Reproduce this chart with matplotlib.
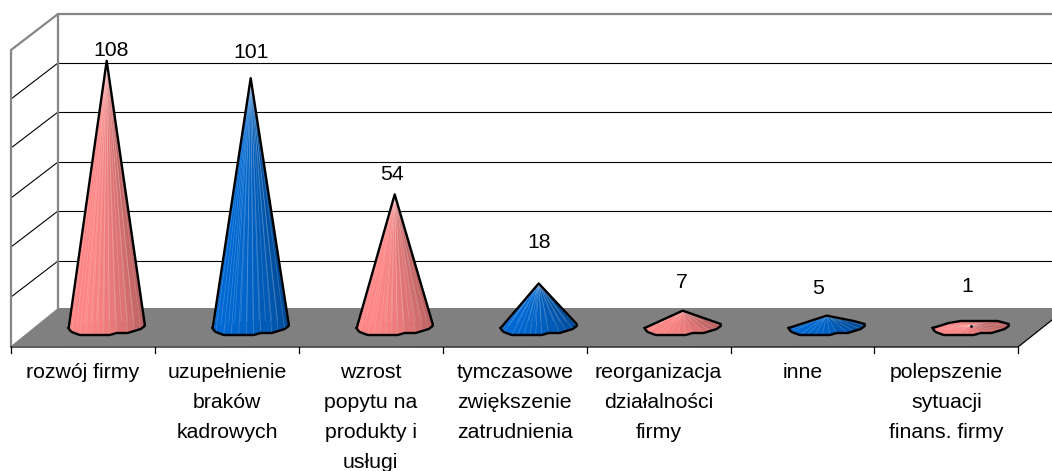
import matplotlib
matplotlib.use("Agg")
import matplotlib.pyplot as plt
from matplotlib.colors import to_rgb

plt.rcParams["font.family"] = ["Liberation Sans", "DejaVu Sans"]

categories = [
    "rozwój firmy",
    "uzupełnienie\nbraków\nkadrowych",
    "wzrost\npopytu na\nprodukty i\nusługi",
    "tymczasowe\nzwiększenie\nzatrudnienia",
    "reorganizacja\ndziałalności\nfirmy",
    "inne",
    "polepszenie\nsytuacji\nfinans. firmy",
]
values = [108, 101, 54, 18, 7, 5, 1]
value_label_px = [(111, 50), (251, 51), (392, 173), (539, 242), (682, 282), (818, 288), (967, 285)]

W, H = 1052, 471
PINK = "#FF8585"
BLUE = "#0068D2"

# calibration of the value axis against the picture
X0, DX = 106.7, 144.0
Y0, DY = 328.0, 2.474

# irregular cone foot, pixels around the centre of the foot
FRONT = [(-38, 0), (-37, 2), (-35, 4), (-27, 7), (3, 7), (10, 5), (21, 5), (34, 1), (38, -2), (38, -4)]
BACK = [(27, -7), (-10, -7), (-22, -5)]

fig = plt.figure(figsize=(W / 100, H / 100), dpi=100)

# frame of the 3d box in pixels
bg = fig.add_axes([0, 0, 1, 1])
bg.set_xlim(0, W)
bg.set_ylim(H, 0)
bg.axis("off")

bg.fill([11, 58, 1052, 1052, 1018], [346, 308, 308, 320, 347], color="#808080", lw=0)
for y in [63, 112, 162, 211, 261]:
    bg.plot([58, W], [y, y], color="black", lw=0.8)
    bg.plot([58, 11], [y, y + 36], color="black", lw=0.8)
bg.plot([11, 11, 58, 58], [346, 50, 14, 308], color="#868686", lw=1.6)
bg.plot([58, W], [14, 14], color="#868686", lw=1.6)
bg.plot([11, 1018, 1052], [347, 347, 320], color="black", lw=0.9)
for i in range(8):
    x = 11 + i * 143.9
    bg.plot([x, x], [347, 353], color="black", lw=0.9)

# data axes, same area but in category / value units
ax = fig.add_axes([0, 0, 1, 1], facecolor="none")
ax.set_xlim(-X0 / DX, (W - X0) / DX)
ax.set_ylim((Y0 - H) / DY, Y0 / DY)
ax.axis("off")


def upper_chain(points):
    # upper hull from left to right
    chain = []
    for p in sorted(points):
        while len(chain) > 1:
            (x1, y1), (x2, y2) = chain[-2], chain[-1]
            if (x2 - x1) * (p[1] - y1) - (y2 - y1) * (p[0] - x1) >= 0:
                chain.pop()
            else:
                break
        chain.append(p)
    return chain


def shade(color, t):
    # lighter on the left of the cone, darker on the right
    f = 1.0 - 0.27 * t * t
    return tuple(c * f for c in to_rgb(color))


def draw_cone(i, v, color):
    foot = [(i + a / DX, -b / DY) for a, b in FRONT + BACK]
    n_front = len(FRONT)
    apex = (i, v)

    # back facets first, then the front ones, each split up for the streaks
    order = list(range(n_front - 1, len(foot))) + [0]
    order2 = list(range(n_front))
    for seq in (order, order2):
        for p, q in zip(seq[:-1], seq[1:]):
            x1, y1 = foot[p]
            x2, y2 = foot[q]
            parts = max(1, int(abs(x2 - x1) * DX / 6))
            for k in range(parts):
                s1, s2 = k / parts, (k + 1) / parts
                a_ = x1 + (x2 - x1) * s1, y1 + (y2 - y1) * s1
                b_ = x1 + (x2 - x1) * s2, y1 + (y2 - y1) * s2
                t = ((a_[0] + b_[0]) / 2 - i) * DX / 76 + 0.5
                c = shade(color, max(0, min(1, t)))
                ax.fill([apex[0], a_[0], b_[0]], [apex[1], a_[1], b_[1]],
                        facecolor=c, edgecolor=c, lw=0.3, zorder=3)
                # faint light seams between the facets
                ax.plot([apex[0], a_[0]], [apex[1], a_[1]], color="white",
                        lw=0.5, alpha=0.22, zorder=3.5)

    left, right = foot[0], foot[n_front - 1]
    upper = upper_chain([left, right, apex] + foot[n_front:])
    front = foot[:n_front]
    xs = [p[0] for p in upper] + [p[0] for p in reversed(front)]
    ys = [p[1] for p in upper] + [p[1] for p in reversed(front)]
    ax.plot(xs, ys, color="black", lw=1.7, solid_joinstyle="round", zorder=4)
    if v < 3:
        ax.plot([i], [v], ".", color="black", ms=2, zorder=5)


for i, v in enumerate(values):
    draw_cone(i, v, PINK if i % 2 == 0 else BLUE)

bg.set_zorder(1)
ax.set_zorder(2)
for v, (x, y) in zip(values, value_label_px):
    bg.text(x, y + 1, str(v), ha="center", va="center", fontsize=15.3, color="black")

for i, label in enumerate(categories):
    for k, line in enumerate(label.split("\n")):
        bg.text(83 + i * 143.9, 372 + k * 30, line, ha="center", va="center",
                fontsize=15.3, color="black")

fig.savefig("out.png", dpi=100)
